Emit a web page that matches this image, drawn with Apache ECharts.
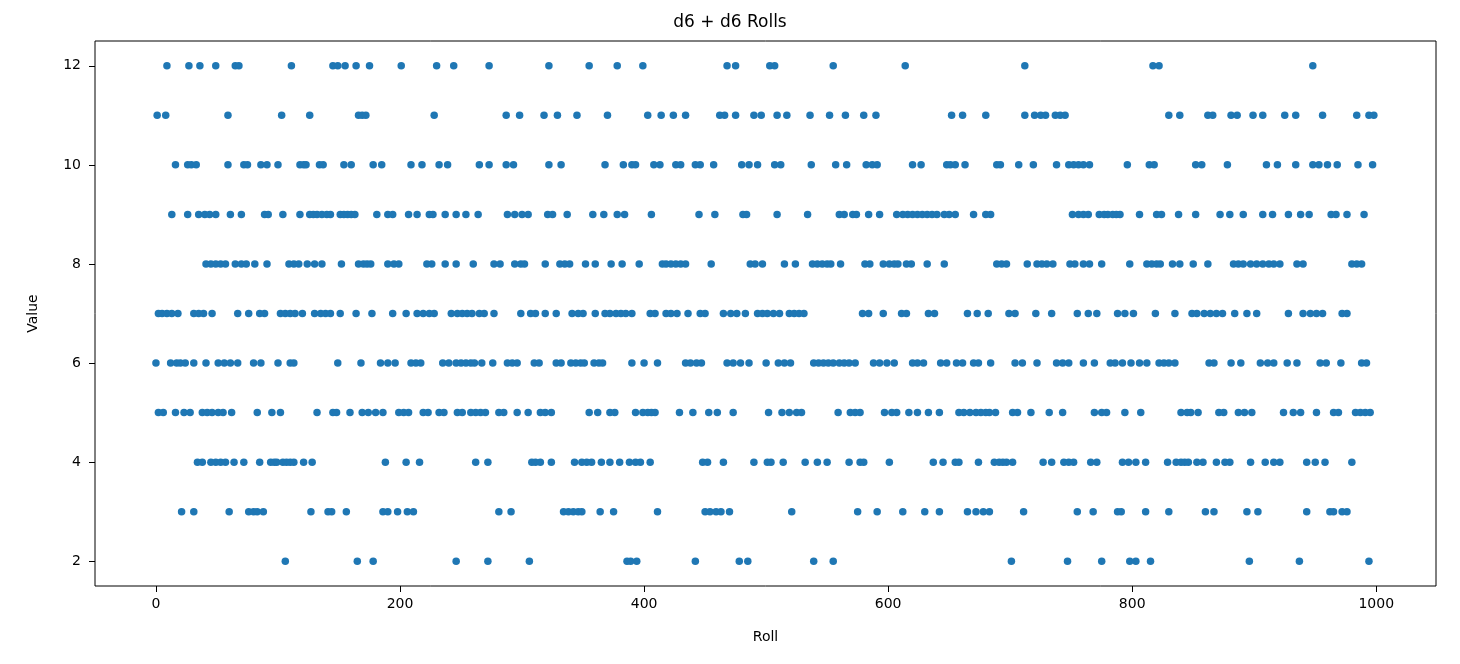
<!DOCTYPE html>
<html>
<head>
<meta charset="utf-8">
<script src="https://cdn.jsdelivr.net/npm/echarts@6/dist/echarts.min.js"></script>
<style>
html,body{margin:0;padding:0;background:#fff;}
#chart{width:1460px;height:664px;}
</style>
</head>
<body>
<div id="chart"></div>
<script>
// Roll indices, one array per dice total
const rollsFor2 = [106,165,178,246,272,306,386,389,394,442,478,485,539,555,701,747,775,798,803,815,896,937,994];
const rollsFor3 = [21,31,60,76,80,83,88,127,141,144,156,186,190,198,206,211,281,291,334,338,342,346,349,364,375,411,450,454,459,463,470,521,575,591,612,630,642,665,672,678,683,711,755,768,788,791,811,830,860,867,894,903,943,962,965,972,976];
const rollsFor4 = [34,38,45,49,53,57,64,72,85,94,97,99,104,107,110,113,121,128,188,205,216,262,272,308,311,315,324,343,349,353,357,365,372,380,388,393,397,405,448,452,465,490,501,504,514,532,542,550,568,577,580,601,637,645,655,658,674,687,691,694,697,702,727,734,744,748,752,766,771,792,797,803,811,829,836,840,843,846,853,858,869,876,880,897,909,916,921,943,950,958,980];
const rollsFor5 = [2,6,16,23,28,38,42,46,51,55,62,83,95,102,132,145,148,159,169,174,180,186,199,203,207,219,223,232,236,247,251,258,262,266,270,281,285,296,305,315,319,324,355,362,372,376,393,399,403,406,409,429,440,453,460,473,502,513,519,525,529,559,569,573,577,597,603,607,617,624,633,642,658,662,667,672,676,680,683,688,702,706,717,732,743,769,775,779,794,807,840,845,848,854,871,875,887,892,898,924,932,938,951,965,969,983,987,991,995];
const rollsFor6 = [0,12,17,20,24,31,41,51,56,61,67,80,86,100,110,113,149,168,184,190,196,209,213,217,235,240,246,250,254,258,261,267,276,288,292,296,310,314,328,332,340,344,348,351,359,363,366,390,400,411,434,438,443,447,468,473,479,486,500,510,515,520,539,543,547,551,555,560,564,568,573,588,593,599,605,620,624,629,643,648,656,661,670,674,684,704,710,722,738,743,748,760,769,782,786,792,799,806,812,822,826,830,835,863,867,881,889,905,911,916,927,935,954,959,971,988,992];
const rollsFor7 = [2,5,9,13,18,31,35,39,46,67,76,85,89,102,106,110,114,120,130,135,139,143,151,164,177,194,205,214,219,224,228,242,247,251,255,259,265,269,277,299,307,311,319,328,341,346,350,360,368,372,377,381,385,390,405,409,418,422,427,436,446,450,465,471,476,483,493,497,501,506,511,519,523,527,531,579,584,596,611,615,633,638,665,673,682,699,704,721,734,755,764,771,788,794,801,819,835,849,853,859,864,869,874,884,894,902,928,940,946,951,956,972,976];
const rollsFor8 = [41,45,49,53,57,65,70,74,81,91,109,113,117,124,130,136,152,166,170,173,176,190,195,199,222,226,237,246,260,277,282,294,299,302,319,331,335,339,352,360,373,382,396,415,418,422,426,430,434,455,487,491,497,515,524,538,542,546,550,553,561,581,585,596,601,605,608,615,619,632,646,689,693,697,714,722,726,730,735,749,753,760,765,775,798,812,816,820,823,833,839,850,862,883,887,891,897,902,907,912,916,921,935,940,980,984,988];
const rollsFor9 = [13,26,35,40,44,49,61,70,89,92,104,118,126,129,132,136,140,143,151,154,157,160,163,181,190,194,207,214,224,227,237,246,254,264,288,294,300,305,321,325,337,358,367,378,384,406,445,458,481,484,509,534,560,564,571,574,584,593,607,612,616,620,624,628,632,636,640,646,650,655,670,680,684,751,756,760,764,773,777,780,784,787,790,806,820,824,838,852,872,880,891,907,915,928,938,945,963,967,976,990];
const rollsFor10 = [16,26,29,33,59,72,75,86,91,100,118,121,123,134,137,154,160,178,185,209,218,232,239,265,273,287,293,322,332,368,383,390,393,408,413,426,430,442,446,457,480,486,493,507,512,537,557,566,582,587,591,620,627,648,651,655,663,689,692,707,719,738,748,752,756,760,765,796,814,818,852,857,878,910,919,934,948,953,960,968,985,997];
const rollsFor11 = [1,8,59,103,126,166,169,172,228,287,298,318,329,345,370,403,414,424,434,462,466,475,490,496,509,517,536,552,565,580,590,652,661,680,712,720,725,729,737,741,745,830,839,862,866,881,886,899,907,925,934,956,984,994,998];
const rollsFor12 = [9,27,36,49,65,68,111,145,149,155,164,175,201,230,244,273,322,355,378,399,468,475,503,507,555,614,712,817,822,948];

const totals = [2,3,4,5,6,7,8,9,10,11,12];
const rowLists = [rollsFor2,rollsFor3,rollsFor4,rollsFor5,rollsFor6,rollsFor7,rollsFor8,rollsFor9,rollsFor10,rollsFor11,rollsFor12];
const xTicks = [0,200,400,600,800,1000];
const yTicks = [2,4,6,8,10,12];

const points = [];
totals.forEach((v, i) => rowLists[i].forEach(r => points.push([r, v])));

const chart = echarts.init(document.getElementById('chart'), null, {renderer: 'canvas'});
const font = 'DejaVu Sans';
chart.setOption({
  animation: false,
  backgroundColor: '#ffffff',
  title: {
    text: 'd6 + d6 Rolls',
    left: 'center',
    top: 9,
    textStyle: {fontFamily: font, fontSize: 17, fontWeight: 'normal', color: '#000'}
  },
  grid: {
    left: 95, right: 24, top: 41, bottom: 78,
    show: true, borderColor: '#000', borderWidth: 1, backgroundColor: 'transparent'
  },
  xAxis: {
    type: 'value',
    min: -49.95, max: 1048.95,
    name: 'Roll',
    nameLocation: 'middle',
    nameGap: 44,
    nameTextStyle: {fontFamily: font, fontSize: 14, color: '#000'},
    axisLine: {show: false, onZero: false},
    splitLine: {show: false},
    axisTick: {show: true, inside: false, length: 6, lineStyle: {color: '#000'}, customValues: xTicks},
    axisLabel: {fontFamily: font, fontSize: 14, color: '#000', margin: 11, customValues: xTicks,
                formatter: v => String(v)}
  },
  yAxis: {
    type: 'value',
    min: 1.5, max: 12.5,
    name: 'Value',
    nameLocation: 'middle',
    nameGap: 55,
    nameTextStyle: {fontFamily: font, fontSize: 14, color: '#000'},
    axisLine: {show: false, onZero: false},
    splitLine: {show: false},
    axisTick: {show: true, inside: false, length: 6, lineStyle: {color: '#000'}, customValues: yTicks},
    axisLabel: {fontFamily: font, fontSize: 14, color: '#000', margin: 14, customValues: yTicks,
                formatter: v => String(v)}
  },
  series: [{
    type: 'scatter',
    data: points,
    symbol: 'circle',
    symbolSize: 7.5,
    itemStyle: {color: '#1f77b4', opacity: 1},
    silent: true
  }]
});
</script>
</body>
</html>
